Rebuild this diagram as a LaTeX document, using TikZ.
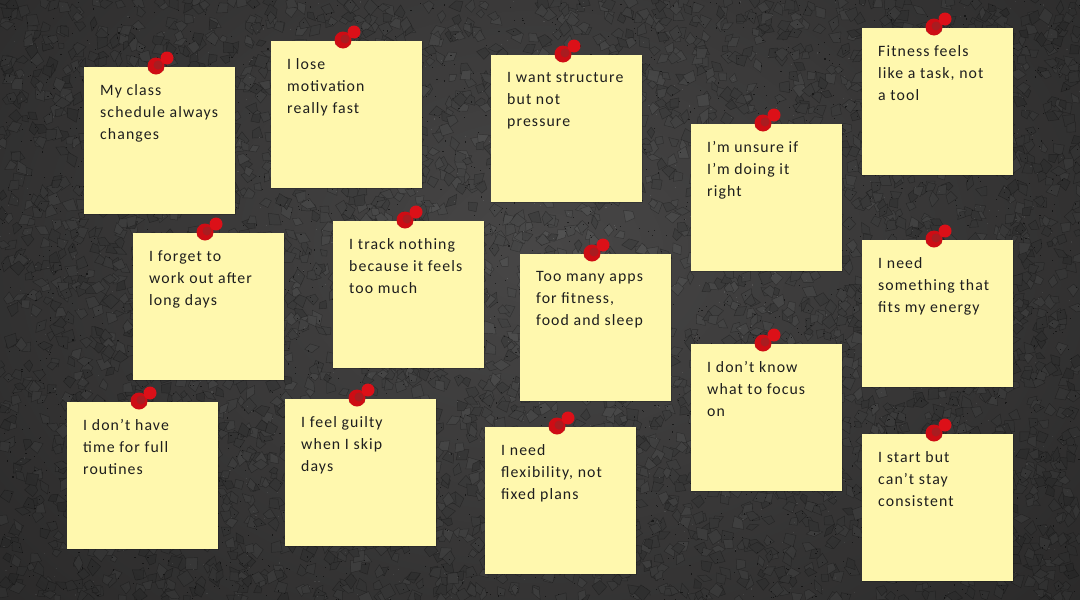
\documentclass[tikz,border=0pt]{standalone}
\usepackage{fontspec}
\setmainfont[LetterSpace=7]{Carlito}
\usetikzlibrary{calc,fadings}
\definecolor{board}{HTML}{484747}
\definecolor{notefill}{HTML}{FFF8AE}
\definecolor{pinred}{HTML}{CE0C14}
\definecolor{pinlight}{HTML}{DC1018}
\definecolor{pindark}{HTML}{A91C20}
\definecolor{ink}{HTML}{1E1E1E}
\tikzfading[name=vignette,inner color=transparent!100,outer color=transparent!30]
\tikzset{
  notebox/.style={fill=notefill,draw=none,minimum width=151pt,minimum height=147pt,inner sep=0pt,anchor=north west},
  notetext/.style={anchor=north west,inner sep=0pt,text=ink,align=left,font=\fontsize{15.8}{22}\selectfont},
  pinbig/.style={circle,fill=pinred,minimum size=17pt,inner sep=0pt},
  pinsmall/.style={circle,fill=pinlight,minimum size=13pt,inner sep=0pt},
  pincore/.style={circle,fill=pindark,minimum size=9pt,inner sep=0pt},
}
\newcommand{\stickynote}[4]{%
  \fill[black,opacity=.18] (#1,#2+1) rectangle (#1+152,#2+148);
  \node[notebox] (n#3) at (#1,#2) {};
  \fill[black!60!notefill,opacity=.5] (#1+64,#2) rectangle (#1+80,#2+4);
  \node[notetext] (t#3) at ($(n#3.north west)+(16,17)$) {#4};
  \node[pinbig] (pa#3) at ($(n#3.north west)+(72,-1)$) {};
  \node[pinsmall] (pb#3) at ($(n#3.north west)+(83,-9)$) {};
  \node[pincore] (pc#3) at ($(n#3.north west)+(74,-2)$) {};
}
\begin{document}
\begin{tikzpicture}[x=1pt,y=-1pt]
\useasboundingbox (0,0) rectangle (1080,600);
\fill[board] (0,0) rectangle (1080,600);
% cork grain: irregular chips
\pgfmathsetseed{4711}
\foreach \i in {1,...,4600}{
  \pgfmathsetmacro{\px}{rnd*1080}
  \pgfmathsetmacro{\py}{rnd*600}
  \pgfmathsetmacro{\sa}{3+rnd*6}
  \pgfmathsetmacro{\sb}{3+rnd*6}
  \pgfmathsetmacro{\sc}{3+rnd*6}
  \pgfmathsetmacro{\sd}{3+rnd*6}
  \pgfmathsetmacro{\rt}{rnd*90}
  \pgfmathsetmacro{\g}{0.25+rnd*0.075}
  \definecolor{chip}{gray}{\g}
  \fill[chip,draw=black,draw opacity=.28,line width=.45pt]
    (\px,\py) ++(\rt:\sa) -- ($(\px,\py)+(\rt+90:\sb)$) -- ($(\px,\py)+(\rt+180:\sc)$) -- ($(\px,\py)+(\rt+270:\sd)$) -- cycle;
}
% fine specks
\foreach \i in {1,...,3000}{
  \pgfmathsetmacro{\px}{rnd*1080}
  \pgfmathsetmacro{\py}{rnd*600}
  \pgfmathsetmacro{\g}{rnd<0.75 ? 0.13 : 0.37}
  \definecolor{chip}{gray}{\g}
  \fill[chip] (\px,\py) rectangle ++(1.1,1.1);
}
% vignette, darker toward the corners
\fill[black,opacity=.6,path fading=vignette] (-200,-300) rectangle (1280,800);
\stickynote{84}{67}{1}{My class\\schedule always\\changes}
\stickynote{271}{41}{2}{I lose\\motivation\\really fast}
\stickynote{491}{55}{3}{I want structure\\but not\\pressure}
\stickynote{691}{124}{4}{I'm unsure if\\I'm doing it\\right}
\stickynote{862}{28}{5}{Fitness feels\\like a task, not\\a tool}
\stickynote{133}{233}{6}{I forget to\\work out after\\long days}
\stickynote{333}{221}{7}{I track nothing\\because it feels\\too much}
\stickynote{520}{254}{8}{Too many apps\\for fitness,\\food and sleep}
\stickynote{862}{240}{9}{I need\\something that\\fits my energy}
\stickynote{691}{344}{10}{I don't know\\what to focus\\on}
\stickynote{67}{402}{11}{I don't have\\time for full\\routines}
\stickynote{285}{399}{12}{I feel guilty\\when I skip\\days}
\stickynote{485}{427}{13}{I need\\flexibility, not\\fixed plans}
\stickynote{862}{434}{14}{I start but\\can't stay\\consistent}
\end{tikzpicture}
\end{document}
